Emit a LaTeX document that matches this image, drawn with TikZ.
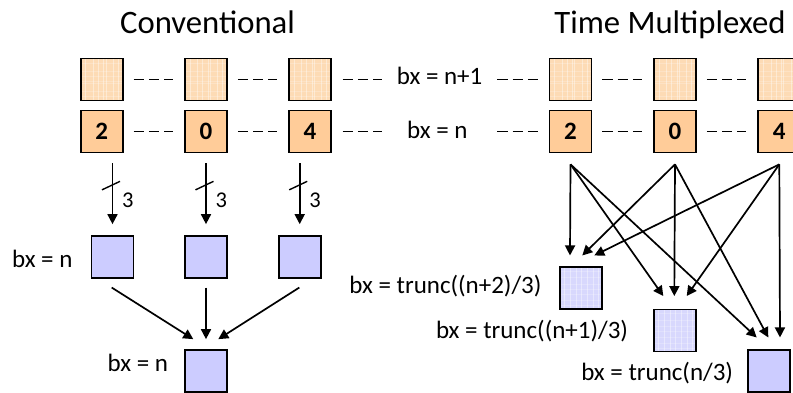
\documentclass[tikz,border=0pt]{standalone}
\usepackage{fontspec}
\setmainfont{Carlito}
\usetikzlibrary{arrows.meta}
\definecolor{tan}{HTML}{FFCC99}
\definecolor{tanlt}{HTML}{FDDBB5}
\definecolor{lav}{HTML}{CCCCFF}
\definecolor{lavlt}{HTML}{D8D8FD}
\tikzset{
  cell/.style={draw=black, line width=1.7pt, minimum size=42pt, inner sep=0pt,
    font=\bfseries\fontsize{25}{30}\selectfont},
  fresh/.style={cell, fill=tan},
  stale/.style={cell, fill=tanlt, path picture={
    \foreach \u in {0.12,0.3,0.42,0.55,0.6,0.78,0.9}{
      \draw[white, opacity=0.4, line width=0.8pt]
        ([xshift=\u*42pt]path picture bounding box.north west) -- ++(0,-42pt);
      \draw[white, opacity=0.22, line width=0.6pt]
        ([yshift=-\u*42pt]path picture bounding box.north west) -- ++(42pt,0);}}},
  blk/.style={cell, fill=lav},
  blktex/.style={cell, fill=lavlt, path picture={
    \foreach \u in {0.1,0.25,0.4,0.52,0.66,0.8,0.92}{
      \draw[white, opacity=0.4, line width=0.8pt]
        ([xshift=\u*42pt]path picture bounding box.north west) -- ++(0,-42pt);
      \draw[white, opacity=0.22, line width=0.6pt]
        ([yshift=-\u*42pt]path picture bounding box.north west) -- ++(42pt,0);}}},
  lbl/.style={inner sep=0pt, font=\fontsize{25}{30}\selectfont},
  ttl/.style={inner sep=0pt, font=\fontsize{32.7}{38}\selectfont},
  dashline/.style={line width=1.9pt, dash pattern=on 10.3pt off 5pt},
  arr/.style={line width=1.7pt, -{Triangle[length=10pt,width=10pt]}},
}
\begin{document}
\begin{tikzpicture}[x=1pt, y=-1pt]
\useasboundingbox (0,0) rectangle (793,393);

% titles
\node[ttl, anchor=base] (tc) at (207.5,34) {Conventional};
\node[ttl, anchor=base] (tm) at (670,34) {Time Multiplexed};

% ---------- conventional: block rows ----------
\node[stale] (ua) at (101.7,79.5) {};
\node[stale] (ub) at (206,79.5) {};
\node[stale] (uc) at (310,79.5) {};
\node[fresh] (la) at (101.7,131.5) {\raisebox{-2pt}{2}};
\node[fresh] (lb) at (206,131.5) {\raisebox{-2pt}{0}};
\node[fresh] (lc) at (310,131.5) {\raisebox{-2pt}{4}};

\draw[dashline] ([xshift=10pt]ua.east) -- ([xshift=-11pt]ub.west);
\draw[dashline] ([xshift=10pt]ub.east) -- ([xshift=-11pt]uc.west);
\draw[dashline] ([xshift=10pt]la.east) -- ([xshift=-11pt]lb.west);
\draw[dashline] ([xshift=10pt]lb.east) -- ([xshift=-11pt]lc.west);

% row labels in the middle
\node[lbl, anchor=base west] (rn1) at (396.7,85) {bx = n+1};
\node[lbl, anchor=base west] (rn) at (407,138.3) {bx = n};

% ---------- time multiplexed: block rows ----------
\node[stale] (va) at (570.5,79.5) {};
\node[stale] (vb) at (675,79.5) {};
\node[stale] (vc) at (779.3,79.5) {};
\node[fresh] (ma) at (570.5,131.5) {\raisebox{-2pt}{2}};
\node[fresh] (mb) at (675,131.5) {\raisebox{-2pt}{0}};
\node[fresh] (mc) at (779.3,131.5) {\raisebox{-2pt}{4}};

\draw[dashline] ([xshift=10pt]va.east) -- ([xshift=-11pt]vb.west);
\draw[dashline] ([xshift=10pt]vb.east) -- ([xshift=-11pt]vc.west);
\draw[dashline] ([xshift=10pt]ma.east) -- ([xshift=-11pt]mb.west);
\draw[dashline] ([xshift=10pt]mb.east) -- ([xshift=-11pt]mc.west);

% dashes joining the two halves of each row
\coordinate (e1) at (382,79.5);
\coordinate (e2) at (382,131.5);
\coordinate (f1) at (497.3,79.5);
\coordinate (f2) at (497.3,131.5);
\draw[dashline] ([xshift=10.7pt]uc.east) -- (e1);
\draw[dashline] ([xshift=10.7pt]lc.east) -- (e2);
\draw[dashline] (f1) -- ([xshift=-11pt]va.west);
\draw[dashline] (f2) -- ([xshift=-11pt]ma.west);

% ---------- conventional: threads ----------
\node[blk] (ta) at (112.5,256.7) {};
\node[blk] (tb) at (206,256.7) {};
\node[blk] (tcc) at (299.7,256.7) {};
\node[lbl, anchor=base east] (tl) at (72.7,267.3) {bx = n};

\foreach \s/\t in {la/ta, lb/tb, lc/tcc}{
  \coordinate (p\t) at ([yshift=-10pt]\s.south -| \t.north);
  \draw[arr] (p\t) -- ([yshift=10.7pt]\t.north);
  \draw[line width=1.4pt] ([xshift=-10.5pt,yshift=-26.5pt]p\t) -- ([xshift=7.5pt,yshift=-18pt]p\t);
  \node[inner sep=0pt, font=\fontsize{22.5}{26}\selectfont, anchor=base west]
    at ([xshift=9.5pt,yshift=-44pt]p\t) {3};
}

\node[blk] (out) at (206,371) {};
\node[lbl, anchor=base east] (ol) at (168.3,371.5) {bx = n};
\draw[arr] ([xshift=-0.8pt,yshift=-9pt]ta.south) -- ([xshift=-12.7pt,yshift=10pt]out.north);
\draw[arr] ([yshift=-9pt]tb.south) -- ([yshift=10pt]out.north);
\draw[arr] ([xshift=-0.4pt,yshift=-9pt]tcc.south) -- ([xshift=12.3pt,yshift=10pt]out.north);

% ---------- time multiplexed: threads ----------
\node[blktex] (qa) at (580.8,288) {};
\node[blktex] (qb) at (674.7,330.5) {};
\node[blk] (qc) at (769.2,371) {};
\node[lbl, anchor=base east] (qal) at (541.7,293.5) {bx = trunc((n+2)/3)};
\node[lbl, anchor=base east] (qbl) at (628.3,338.5) {bx = trunc((n+1)/3)};
\node[lbl, anchor=base east] (qcl) at (733.3,380) {bx = trunc(n/3)};

\coordinate (sa) at ([yshift=-11pt]ma.south);
\coordinate (sb) at ([yshift=-11pt]mb.south);
\coordinate (sc) at ([yshift=-11pt]mc.south);

\draw[arr] (sa) -- ([xshift=-10.8pt,yshift=10.7pt]qa.north);
\draw[arr] (sb) -- ([xshift=1.5pt,yshift=10.7pt]qa.north);
\draw[arr] (sc) -- ([xshift=13.5pt,yshift=10.7pt]qa.north);

\draw[arr] (sa) -- ([xshift=-11.4pt,yshift=12.6pt]qb.north);
\draw[arr] (sb) -- ([xshift=-0.4pt,yshift=12.6pt]qb.north);
\draw[arr] (sc) -- ([xshift=12pt,yshift=12.6pt]qb.north);

\draw[arr] (sa) -- ([xshift=-12.5pt,yshift=11.7pt]qc.north);
\draw[arr] (sb) -- ([xshift=-0.9pt,yshift=11.7pt]qc.north);
\draw[arr] (sc) -- ([xshift=10.8pt,yshift=11.7pt]qc.north);
\end{tikzpicture}
\end{document}
